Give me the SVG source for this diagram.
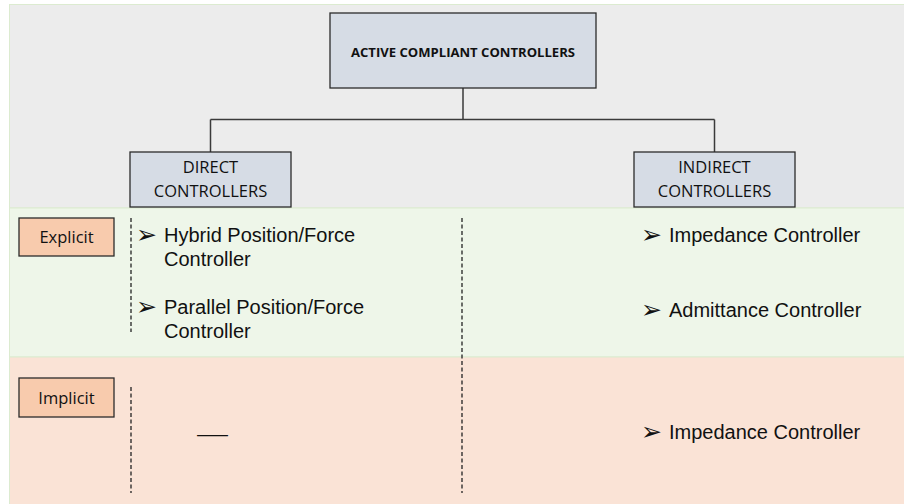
<svg xmlns="http://www.w3.org/2000/svg" width="904" height="504" viewBox="0 0 904 504">
  <style>
    .band { stroke: #dcebd0; stroke-width: 1; }
    .box { fill: #d6dce5; stroke: #2b2b2b; stroke-width: 1.3; }
    .tag { fill: #f8cbad; stroke: #2b2b2b; stroke-width: 1.3; }
    .lbl { font-family: "Open Sans", "Liberation Sans", sans-serif; font-size: 16.5px; fill: #111; text-anchor: middle; }
    .title { font-family: "Open Sans", "Liberation Sans", sans-serif; font-size: 13px; font-weight: bold; fill: #111; text-anchor: middle; }
    .item { font-family: "Liberation Sans", Arial, sans-serif; font-size: 20px; fill: #111; }
    .bullet { font-family: "DejaVu Sans", sans-serif; font-size: 25px; fill: #111; }
    .link { fill: none; stroke: #3a3a3a; stroke-width: 1.5; }
    .sep { fill: none; stroke: #222; stroke-width: 1.3; stroke-dasharray: 4 2.5; }
  </style>

  <rect x="0" y="0" width="904" height="504" fill="#ffffff"/>

  <!-- background bands -->
  <rect class="band" x="9.5" y="4.5" width="900" height="203.5" fill="#ececec"/>
  <rect class="band" x="9.5" y="208" width="900" height="149" fill="#eef6e9"/>
  <rect class="band" x="9.5" y="357" width="900" height="150" fill="#fae3d6"/>

  <!-- tree connectors -->
  <g id="connectors">
    <path class="link" d="M463 88 V119.5"/>
    <path class="link" d="M210.5 119.5 H714.5"/>
    <path class="link" d="M210.5 119.5 V152"/>
    <path class="link" d="M714.5 119.5 V152"/>
  </g>

  <g id="root">
    <rect class="box" x="330" y="13" width="266" height="75"/>
    <text class="title" x="463" y="57" textLength="224" lengthAdjust="spacingAndGlyphs">ACTIVE COMPLIANT CONTROLLERS</text>
  </g>

  <g id="direct">
    <rect class="box" x="130" y="152" width="161" height="55"/>
    <text class="lbl" x="210.5" y="173">DIRECT</text>
    <text class="lbl" x="210.5" y="197">CONTROLLERS</text>
  </g>

  <g id="indirect">
    <rect class="box" x="634" y="152" width="161" height="55"/>
    <text class="lbl" x="714.5" y="173">INDIRECT</text>
    <text class="lbl" x="714.5" y="197">CONTROLLERS</text>
  </g>

  <!-- column separators -->
  <g id="separators">
    <path class="sep" d="M131 218 V332"/>
    <path class="sep" d="M131 387 V493"/>
    <path class="sep" d="M462 218 V493"/>
  </g>

  <g id="explicit">
    <rect class="tag" x="19" y="218" width="95" height="38"/>
    <text class="lbl" x="66.5" y="243">Explicit</text>
  </g>

  <g id="implicit">
    <rect class="tag" x="19" y="378" width="95" height="39"/>
    <text class="lbl" x="66.5" y="404">Implicit</text>
  </g>

  <g id="explicit-direct">
    <text class="bullet" x="136" y="243">➢</text>
    <text class="item" x="164" y="242">Hybrid Position/Force</text>
    <text class="item" x="164" y="266">Controller</text>
    <text class="bullet" x="136" y="315">➢</text>
    <text class="item" x="164" y="314">Parallel Position/Force</text>
    <text class="item" x="164" y="338">Controller</text>
  </g>

  <g id="explicit-indirect">
    <text class="bullet" x="641" y="243">➢</text>
    <text class="item" x="669" y="242">Impedance Controller</text>
    <text class="bullet" x="641" y="318">➢</text>
    <text class="item" x="669" y="317">Admittance Controller</text>
  </g>

  <g id="implicit-direct">
    <text class="item" x="197" y="441" textLength="31" lengthAdjust="spacingAndGlyphs">—</text>
  </g>

  <g id="implicit-indirect">
    <text class="bullet" x="641" y="440">➢</text>
    <text class="item" x="669" y="439">Impedance Controller</text>
  </g>
</svg>
